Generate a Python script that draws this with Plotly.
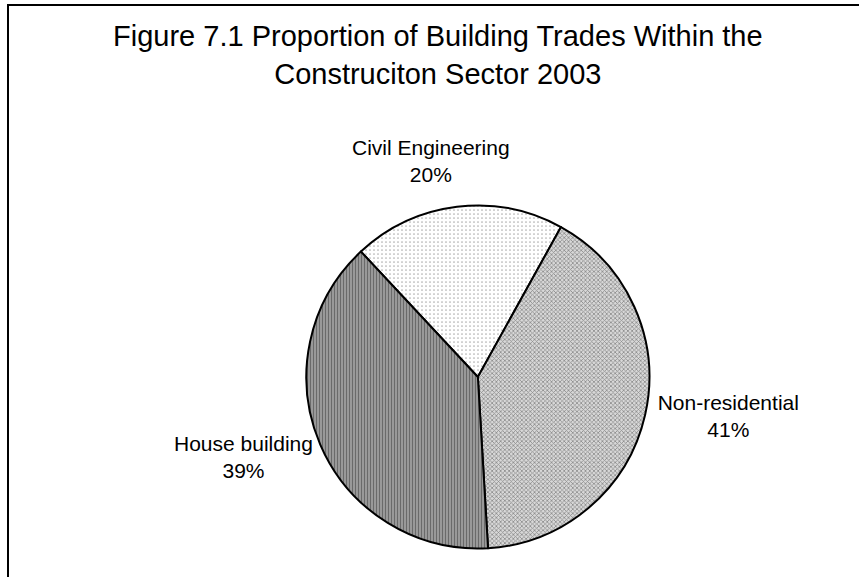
import plotly.graph_objects as go

labels = ["Civil Engineering", "Non-residential", "House building"]
values = [20, 41, 39]
title_lines = ["Figure 7.1 Proportion of Building Trades Within the", "Construciton Sector 2003"]

FONT = "Liberation Sans, Arial, sans-serif"
total = sum(values)

# Civil Engineering and House building labels are drawn as annotations (placed like the reference)
text_pos = ["none", "outside", "none"]

fig = go.Figure(go.Pie(
    labels=labels,
    values=values,
    sort=False,
    direction="clockwise",
    rotation=-43,
    textinfo="label+percent",
    textposition=text_pos,
    texttemplate="%{label}<br>%{percent:.0%}",
    textfont=dict(family=FONT, size=21, color="black"),
    marker=dict(
        colors=["#f4f4f4", "#c0c0c0", "#8c8c8c"],
        line=dict(color="black", width=2),
        pattern=dict(
            shape=[".", "x", "|"],
            fgcolor=["#b0b0b0", "#8a8a8a", "#6a6a6a"],
            bgcolor=["#ffffff", "#d8d8d8", "#a8a8a8"],
            size=[4, 3, 3],
            solidity=[0.15, 0.45, 0.5],
            fillmode="replace",
        ),
    ),
    domain=dict(x=[0.3565, 0.7561], y=[0.0494, 0.6438]),
    showlegend=False,
    hoverinfo="label+percent",
))


def label_text(i):
    return f"{labels[i]}<br>{round(100 * values[i] / total)}%"


fig.update_layout(
    width=859, height=577,
    margin=dict(l=0, r=0, t=0, b=0),
    paper_bgcolor="white",
    plot_bgcolor="white",
    annotations=[
        dict(
            text="<br>".join(title_lines),
            xref="paper", yref="paper",
            x=438 / 859, xanchor="center",
            y=1 - 18 / 577, yanchor="top",
            showarrow=False,
            font=dict(family=FONT, size=29, color="black"),
        ),
        dict(
            text=label_text(0),
            xref="paper", yref="paper",
            x=431 / 859, xanchor="center",
            y=1 - 161 / 577, yanchor="middle",
            showarrow=False,
            font=dict(family=FONT, size=21, color="black"),
        ),
        dict(
            text=label_text(2),
            xref="paper", yref="paper",
            x=243 / 859, xanchor="center",
            y=1 - 457 / 577, yanchor="middle",
            showarrow=False,
            font=dict(family=FONT, size=21, color="black"),
        ),
    ],
    shapes=[dict(
        type="rect", xref="paper", yref="paper",
        x0=8 / 859, x1=1.05, y0=-0.05, y1=1 - 5 / 577,
        line=dict(color="black", width=2), fillcolor="rgba(0,0,0,0)",
    )],
)

fig.write_html("out.html")
